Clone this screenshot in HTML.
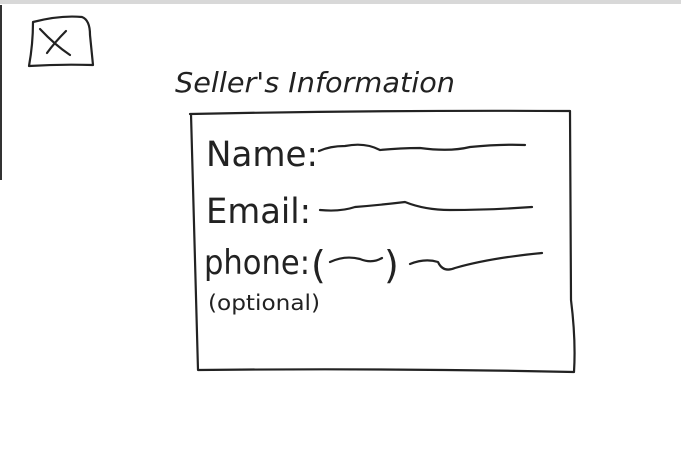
<!DOCTYPE html>
<html><head><meta charset="utf-8"><style>
html,body{margin:0;padding:0;background:#fff;width:681px;height:467px;overflow:hidden}
</style></head><body>
<svg width="681" height="467" viewBox="0 0 681 467" xmlns="http://www.w3.org/2000/svg">
<rect x="0" y="0" width="681" height="4" fill="#d8d8d8"/>
<line x1="1" y1="5" x2="1" y2="180" stroke="#333" stroke-width="2"/>
<g fill="none" stroke="#222" stroke-width="2.2" stroke-linecap="round" stroke-linejoin="round">
<path d="M33 22 Q60 15 82 17 Q90 20 90 35 L93 65 Q60 64 29 66 Q33 44 33 22Z"/>
<path d="M40 29 Q55 45 70 55 M66 31 Q55 42 47 53"/>
<path d="M190 114 Q380 110 570 111 L571 300 Q576 340 574 372 Q390 368 198 370 Q195 240 191 114Z"/>
<path d="M319 151 Q330 146 345 146 Q365 142 380 150 Q400 148 420 148 Q450 152 470 147 Q500 144 525 145"/>
<path d="M320 210 Q340 212 355 207 Q380 205 405 202 Q425 210 450 210 Q490 210 532 207"/>
<path d="M330 262 Q345 255 360 259 Q372 264 382 258"/>
<path d="M410 264 Q425 258 438 262 Q443 273 455 268 Q490 258 542 253"/>
</g>
<g font-family="'DejaVu Sans', 'Liberation Sans', sans-serif" fill="#222">
<text x="175" y="92" font-size="28" font-style="italic" textLength="280" lengthAdjust="spacingAndGlyphs">Seller's Information</text>
<text x="206" y="166" font-size="35" textLength="112" lengthAdjust="spacingAndGlyphs">Name:</text>
<text x="206" y="223" font-size="35" textLength="105" lengthAdjust="spacingAndGlyphs">Email:</text>
<text x="204" y="274" font-size="34" textLength="106" lengthAdjust="spacingAndGlyphs">phone:</text>
<text x="311" y="278" font-size="38">(</text>
<text x="384" y="278" font-size="38">)</text>
<text x="208" y="310" font-size="21" textLength="112" lengthAdjust="spacingAndGlyphs">(optional)</text>
</g>
</svg>
</body></html>
